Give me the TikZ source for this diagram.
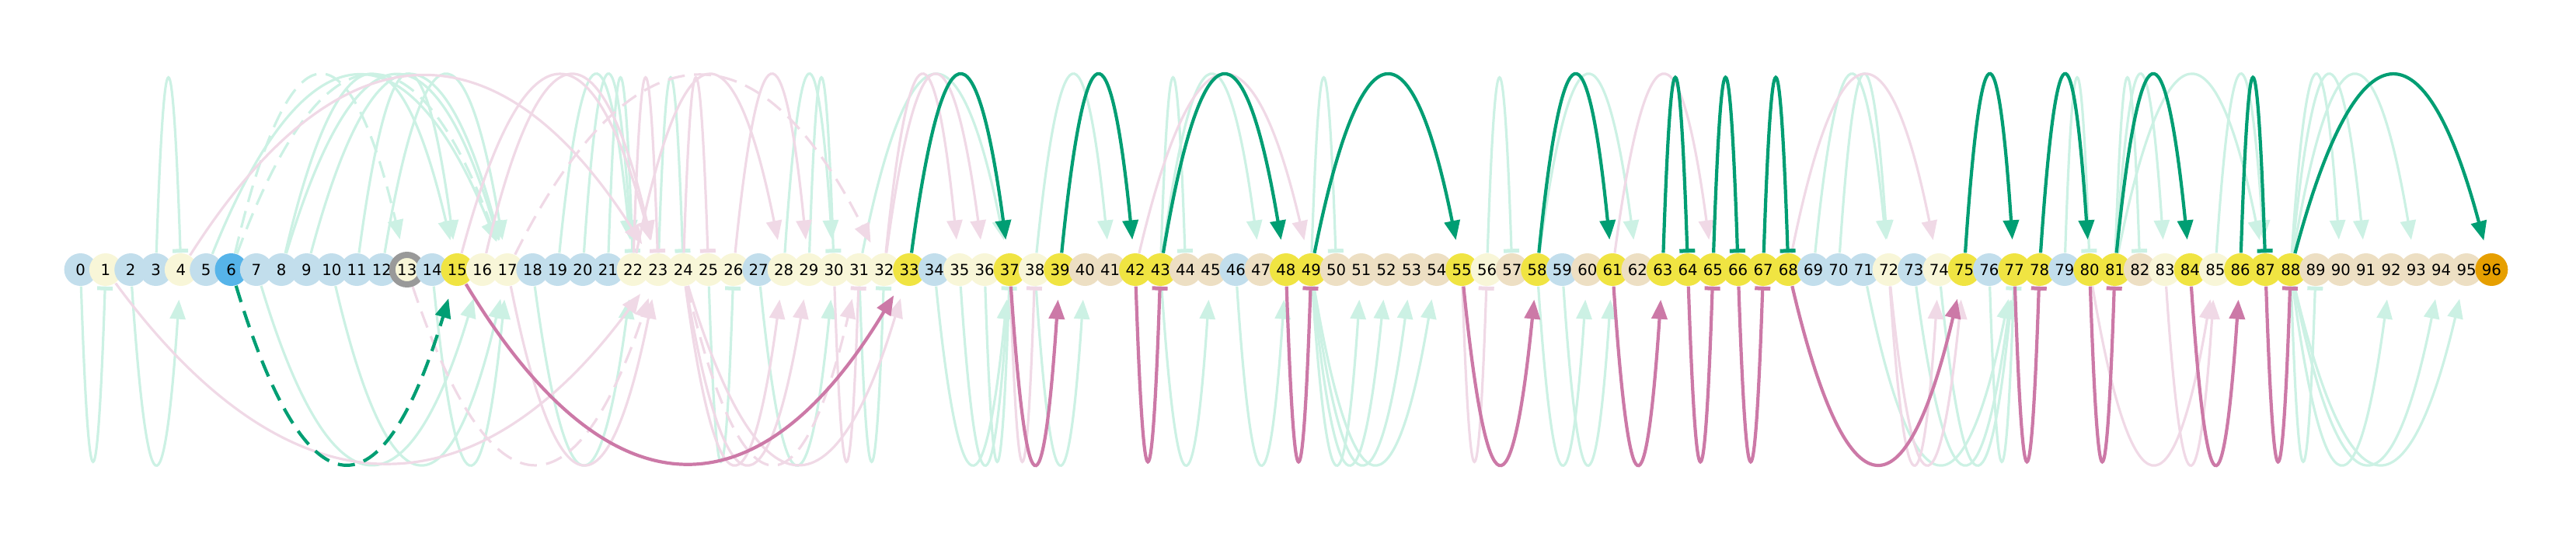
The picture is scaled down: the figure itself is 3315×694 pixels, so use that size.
\documentclass[tikz,border=0pt]{standalone}
\usepackage{fontspec}
\setmainfont{DejaVu Sans}
\usetikzlibrary{arrows.meta,calc}
\pgfdeclarelayer{background}
\pgfsetlayers{background,main}
\definecolor{pathgreen}{HTML}{009E73}
\definecolor{pathpink}{HTML}{CC79A7}
\definecolor{faintgreen}{HTML}{CCF1E4}
\definecolor{faintpink}{HTML}{F0D9E6}
\definecolor{nblue}{HTML}{C2DEEC}
\definecolor{ncream}{HTML}{F8F6D8}
\definecolor{ntan}{HTML}{EDDFC3}
\definecolor{nyellow}{HTML}{F0E442}
\definecolor{nstart}{HTML}{56B4E9}
\definecolor{nend}{HTML}{E69F00}
\definecolor{ringgray}{HTML}{999999}

\begin{document}
\begin{tikzpicture}[x=0.1mm,y=0.1mm,
		state/.style={circle,minimum size=4.2mm,inner sep=0pt,font=\fontsize{5.6}{6}\selectfont},
		plain/.style={},
		ring/.style={draw=ringgray,line width=0.8mm,minimum size=3.8mm},
		hopup/.style={to path={.. controls ($(\tikztostart)!1/3!(\tikztotarget)+(0,322)$) and ($(\tikztostart)!2/3!(\tikztotarget)+(0,322)$) .. (\tikztotarget)}},
		hopdown/.style={to path={.. controls ($(\tikztostart)!1/3!(\tikztotarget)+(0,-322)$) and ($(\tikztostart)!2/3!(\tikztotarget)+(0,-322)$) .. (\tikztotarget)}},
		arrowend/.style={-{Triangle[length=2.5mm,width=2mm]},shorten >=1.7mm},
		barend/.style={-{Bar[width=2mm,line width=0.5mm]}},
		faint/.style={line width=0.32mm},
		strong/.style={line width=0.42mm},
		dashes/.style={dash pattern=on 2.2mm off 1.2mm}
	]
	\useasboundingbox (0,0) rectangle (3315,694);

	% states along the line
	\foreach \i/\c/\s in {0/nblue/plain,1/ncream/plain,2/nblue/plain,3/nblue/plain,4/ncream/plain,5/nblue/plain,6/nstart/plain,7/nblue/plain,8/nblue/plain,9/nblue/plain,10/nblue/plain,11/nblue/plain,12/nblue/plain,13/ncream/ring,14/nblue/plain,15/nyellow/plain,16/ncream/plain,17/ncream/plain,18/nblue/plain,19/nblue/plain,20/nblue/plain,21/nblue/plain,22/ncream/plain,23/ncream/plain,24/ncream/plain,25/ncream/plain,26/ncream/plain,27/nblue/plain,28/ncream/plain,29/ncream/plain,30/ncream/plain,31/ncream/plain,32/ncream/plain,33/nyellow/plain,34/nblue/plain,35/ncream/plain,36/ncream/plain,37/nyellow/plain,38/ncream/plain,39/nyellow/plain,40/ntan/plain,41/ntan/plain,42/nyellow/plain,43/nyellow/plain,44/ntan/plain,45/ntan/plain,46/nblue/plain,47/ntan/plain,48/nyellow/plain,49/nyellow/plain,50/ntan/plain,51/ntan/plain,52/ntan/plain,53/ntan/plain,54/ntan/plain,55/nyellow/plain,56/ncream/plain,57/ntan/plain,58/nyellow/plain,59/nblue/plain,60/ntan/plain,61/nyellow/plain,62/ntan/plain,63/nyellow/plain,64/nyellow/plain,65/nyellow/plain,66/nyellow/plain,67/nyellow/plain,68/nyellow/plain,69/nblue/plain,70/nblue/plain,71/nblue/plain,72/ncream/plain,73/nblue/plain,74/ncream/plain,75/nyellow/plain,76/nblue/plain,77/nyellow/plain,78/nyellow/plain,79/nblue/plain,80/nyellow/plain,81/nyellow/plain,82/ntan/plain,83/ncream/plain,84/nyellow/plain,85/ncream/plain,86/nyellow/plain,87/nyellow/plain,88/nyellow/plain,89/ntan/plain,90/ntan/plain,91/ntan/plain,92/ntan/plain,93/ntan/plain,94/ntan/plain,95/ntan/plain,96/nend/plain}
		\node[state,fill=\c,\s] (n\i) at ({103.6+32.32*\i},347) {\i};

	\begin{pgfonlayer}{background}
		% faint hops above
		\foreach \a/\b in {5/17,8/15,8/17,9/17,11/15,12/17,19/22,20/22,28/30,31/37,38/41,43/47,58/62,69/72,70/72,81/83,81/87,85/87,88/90,88/91,88/93}
			\draw[faint,faintgreen,arrowend] (n\a) to[hopup] (n\b);
		\foreach \a/\b in {3/4,21/22,23/24,29/30,43/44,49/50,56/57,79/80,81/82}
			\draw[faint,faintgreen,barend] (n\a) to[hopup] (n\b);
		\foreach \a/\b in {6/13,6/17}
			\draw[faint,faintgreen,dashes,arrowend] (n\a) to[hopup] (n\b);
		\foreach \a/\b in {4/23,15/23,16/23,22/28,26/29,32/35,32/36,42/49,61/65,68/74}
			\draw[faint,faintpink,arrowend] (n\a) to[hopup] (n\b);
		\foreach \a/\b in {22/23,24/25}
			\draw[faint,faintpink,barend] (n\a) to[hopup] (n\b);
		\draw[faint,faintpink,dashes,arrowend] (n17) to[hopup] (n32);
		% faint hops below
		\foreach \a/\b in {2/4,7/16,10/17,14/17,18/22,27/30,34/37,35/37,38/40,43/45,46/48,49/51,49/52,49/53,49/54,58/60,59/61,71/77,73/77,74/77,88/92,88/94,88/95}
			\draw[faint,faintgreen,arrowend] (n\a) to[hopdown] (n\b);
		\foreach \a/\b in {0/1,25/26,31/32,36/37,76/77,88/89}
			\draw[faint,faintgreen,barend] (n\a) to[hopdown] (n\b);
		\foreach \a/\b in {1/23,17/23,24/28,24/29,24/33,72/74,72/75,80/85,83/85}
			\draw[faint,faintpink,arrowend] (n\a) to[hopdown] (n\b);
		\foreach \a/\b in {30/31,37/38,55/56}
			\draw[faint,faintpink,barend] (n\a) to[hopdown] (n\b);
		\foreach \a/\b in {13/23,24/31}
			\draw[faint,faintpink,dashes,arrowend] (n\a) to[hopdown] (n\b);
		% the highlighted route
		\draw[strong,pathgreen,dashes,arrowend] (n6) to[hopdown] (n15);
		\foreach \a/\b in {33/37,39/42,43/48,49/55,58/61,75/77,78/80,81/84,88/96}
			\draw[strong,pathgreen,arrowend] (n\a) to[hopup] (n\b);
		\foreach \a/\b in {63/64,65/66,67/68,86/87}
			\draw[strong,pathgreen,barend] (n\a) to[hopup] (n\b);
		\foreach \a/\b in {15/33,37/39,55/58,61/63,68/75,84/86}
			\draw[strong,pathpink,arrowend] (n\a) to[hopdown] (n\b);
		\foreach \a/\b in {42/43,48/49,64/65,66/67,77/78,80/81,87/88}
			\draw[strong,pathpink,barend] (n\a) to[hopdown] (n\b);
	\end{pgfonlayer}
\end{tikzpicture}
\end{document}
